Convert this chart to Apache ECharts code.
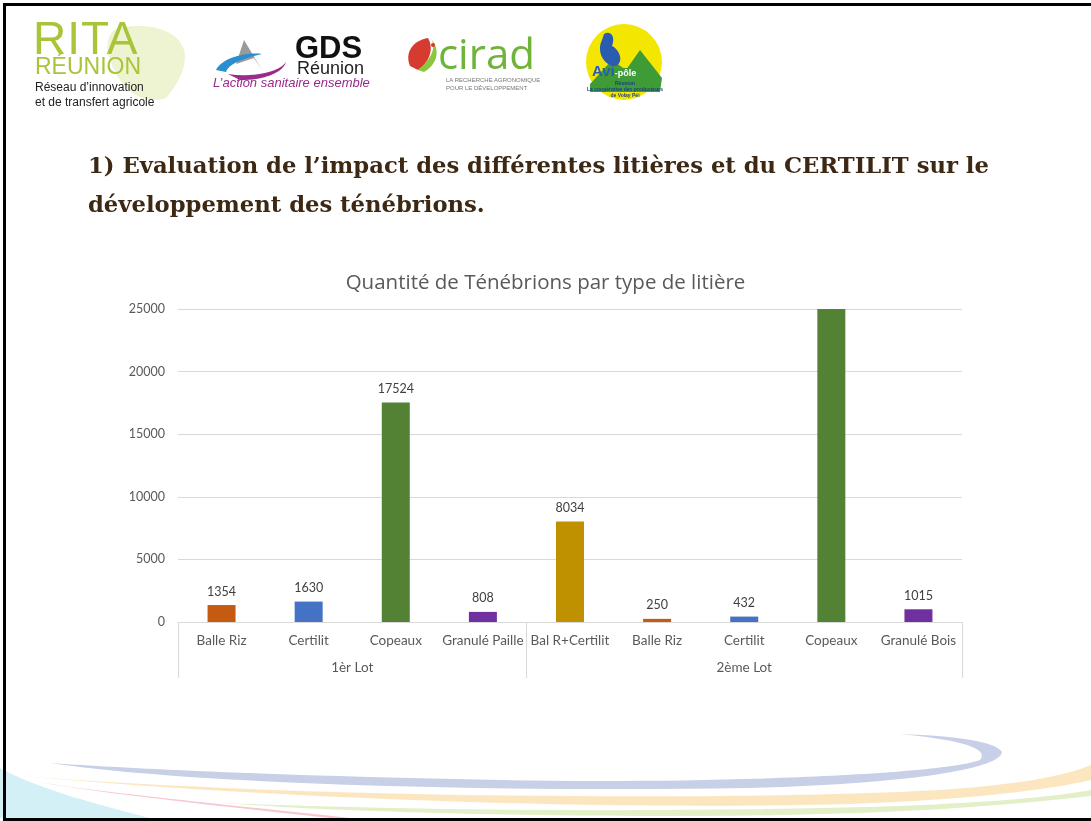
<!DOCTYPE html>
<html>
<head>
<meta charset="utf-8">
<script src="https://cdn.jsdelivr.net/npm/echarts@6/dist/echarts.min.js"></script>
<style>
  html, body { margin:0; padding:0; background:#fff; width:1091px; height:821px; overflow:hidden; }
  #chart { position:absolute; left:0; top:0; width:1091px; height:821px; }
  .ov { position:absolute; pointer-events:none; z-index:5; white-space:nowrap; }
  #frame { position:absolute; left:3px; top:3px; width:1100px; height:818px; border:3px solid #000; box-sizing:border-box; z-index:6; pointer-events:none; }
  #heading { left:88px; top:146px; width:980px; white-space:normal; font-family:"DejaVu Serif","Liberation Serif",serif; font-weight:bold; font-size:22.7px; line-height:39px; color:#3d2813; }
</style>
</head>
<body>
<div id="chart"></div>
<div id="frame"></div>

<!-- decorative logos rendered as text & shapes -->
<svg class="ov" style="left:0;top:0" width="1091" height="821">
  <!-- RITA island shape -->
  <path d="M118 28 C150 22 178 30 184 50 C188 66 178 84 166 98 C150 104 130 96 120 80 C108 62 100 36 118 28 Z" fill="#eef3d2"/>
  <!-- GDS arrow & swooshes -->
  <path d="M244 40 L262 70 L254 58 L236 64 Z" fill="#9a9a9a"/>
  <path d="M216 70 C222 58 246 52 262 54 C244 58 228 64 226 72 Z" fill="#2a8fd0"/>
  <path d="M228 74 C252 78 280 72 286 62 C284 70 270 80 240 80 Z" fill="#9b2a8d"/>
  <!-- cirad leaf -->
  <path d="M410 66 C404 52 414 40 428 38 C434 48 430 62 418 70 Z" fill="#d63b2f"/>
  <path d="M418 70 C430 60 436 50 432 40 C440 50 438 64 424 72 Z" fill="#8cc63f"/>
  <circle cx="433" cy="45" r="2" fill="#d63b2f"/>
  <!-- Avi-pole -->
  <circle cx="624" cy="62" r="38" fill="#f3e600"/>
  <path d="M590 84 L612 60 L626 70 L640 50 L662 78 L660 92 L590 92 Z" fill="#3f9b35"/>
  <path d="M602 40 C596 52 604 66 616 66 C624 62 620 50 612 46 C616 36 610 30 604 34 Z" fill="#2a5db0"/>
  <!-- bottom swooshes -->
  <path d="M0 768 C40 790 100 805 150 818 L0 818 Z" fill="#cdeef4" opacity="0.9"/>
  <path d="M50 763 C200 785 500 792 750 788 C900 784 1000 770 1002 752 C996 742 960 736 900 734 C960 740 990 748 980 760 C940 775 700 784 500 780 C300 776 150 770 50 763 Z" fill="#c8d0e8"/>
  <path d="M20 776 C300 798 700 800 900 792 C1000 788 1060 778 1091 765 L1091 780 C1040 792 950 800 850 804 C600 810 300 800 20 776 Z" fill="#fbe3b8" opacity="0.9"/>
  <path d="M30 781 C120 795 260 808 350 818 L330 818 C240 808 120 796 30 781 Z" fill="#f6c8cf"/>
  <path d="M220 803 C450 812 700 812 900 806 C1000 802 1060 796 1091 790 L1091 796 C1000 806 900 815 700 816 C500 816 350 812 220 803 Z" fill="#e2efc7"/>
</svg>

<div class="ov" style="left:33px;top:16px;font-family:'Liberation Sans',sans-serif;color:#a8c53a;font-size:46px;line-height:44px;letter-spacing:1px;">RITA</div>
<div class="ov" style="left:35px;top:55px;font-family:'Liberation Sans',sans-serif;color:#a8c53a;font-size:23px;line-height:22px;">RÉUNION</div>
<div class="ov" style="left:35px;top:80px;font-family:'Liberation Sans',sans-serif;color:#222;font-size:12px;line-height:15px;">Réseau d’innovation<br>et de transfert agricole</div>

<div class="ov" style="left:295px;top:33px;font-family:'Liberation Sans',sans-serif;font-weight:bold;color:#111;font-size:31px;line-height:30px;">GDS</div>
<div class="ov" style="left:297px;top:59px;font-family:'Liberation Sans',sans-serif;color:#222;font-size:18px;line-height:18px;">Réunion</div>
<div class="ov" style="left:213px;top:76px;font-family:'Liberation Sans',sans-serif;font-style:italic;color:#9b2a8d;font-size:13px;line-height:14px;">L’action sanitaire ensemble</div>

<div class="ov" style="left:438px;top:30px;font-family:'Open Sans',sans-serif;color:#6fb33a;font-size:42px;line-height:46px;">cirad</div>
<div class="ov" style="left:446px;top:76px;font-family:'Liberation Sans',sans-serif;color:#777;font-size:6px;line-height:8px;">LA RECHERCHE AGRONOMIQUE<br>POUR LE DÉVELOPPEMENT</div>

<div class="ov" style="left:592px;top:63px;font-family:'Liberation Sans',sans-serif;font-weight:bold;color:#2a5db0;font-size:15px;line-height:15px;">Avi<span style="font-size:9px;background:#3f9b35;color:#fff;">-pôle</span></div>
<div class="ov" style="left:583px;top:80px;width:84px;text-align:center;font-family:'Liberation Sans',sans-serif;font-weight:bold;color:#1a3f8a;font-size:5px;line-height:6px;">Réunion<br>La coopérative des producteurs<br>de Volay Péi</div>

<div id="heading" class="ov">1) Evaluation de l’impact des différentes litières et du CERTILIT sur le<br>développement des ténébrions.</div>

<script>
// ---------- data ----------
const chartTitle = 'Quantité de Ténébrions par type de litière';
const categories = ['Balle Riz', 'Certilit', 'Copeaux', 'Granulé Paille', 'Bal R+Certilit', 'Balle Riz', 'Certilit', 'Copeaux', 'Granulé Bois'];
const values = [1354, 1630, 17524, 808, 8034, 250, 432, 25000, 1015];
const barColors = ['#C55A11', '#4472C4', '#548235', '#7030A0', '#BF9000', '#C55A11', '#4472C4', '#548235', '#7030A0'];
const groupNames = ['1èr Lot', '2ème Lot'];
const groupSizes = [4, 5];
const yMin = 0;
const yMax = 25000;
const yStep = 5000;

// ---------- build ----------
const nCat = categories.length;
const halfSlots = new Array(2 * nCat + 1).fill('');
const boundaries = [];
let start = 0;
groupNames.forEach((g, i) => {
  boundaries.push(2 * start);
  halfSlots[2 * start + groupSizes[i]] = g;
  start += groupSizes[i];
});
boundaries.push(2 * start);

const barData = values.map((v, i) => ({
  value: v,
  itemStyle: { color: barColors[i] },
  label: { show: v < yMax }
}));

const textColor = '#595959';
const gridColor = '#D9D9D9';
const font = 'Lato, "Open Sans", sans-serif';

const chart = echarts.init(document.getElementById('chart'), null, { renderer: 'canvas' });
chart.setOption({
  backgroundColor: '#ffffff',
  animation: false,
  title: {
    text: chartTitle,
    left: 'center',
    top: 268,
    textStyle: { fontFamily: '"Open Sans", sans-serif', fontWeight: 'normal', fontSize: 20.5, color: textColor }
  },
  grid: { left: 178, top: 309, width: 784, height: 313, containLabel: false },
  xAxis: [
    {
      type: 'category',
      data: categories,
      position: 'bottom',
      axisLine: { lineStyle: { color: gridColor, width: 1 } },
      axisTick: { show: false },
      axisLabel: { interval: 0, color: textColor, fontFamily: font, fontSize: 13.5, margin: 12 }
    },
    {
      type: 'category',
      data: halfSlots,
      boundaryGap: false,
      position: 'bottom',
      axisLine: { show: false },
      axisTick: {
        show: true,
        length: 56,
        interval: (idx) => boundaries.indexOf(idx) >= 0,
        lineStyle: { color: gridColor, width: 1 }
      },
      axisLabel: { interval: 0, color: textColor, fontFamily: font, fontSize: 13.5, margin: 39 },
      splitLine: { show: false }
    }
  ],
  yAxis: {
    type: 'value',
    min: yMin,
    max: yMax,
    interval: yStep,
    axisLine: { show: false },
    axisTick: { show: false },
    axisLabel: { color: textColor, fontFamily: font, fontSize: 12.5, margin: 13, formatter: (v) => String(v) },
    splitLine: { lineStyle: { color: gridColor, width: 1 } }
  },
  series: [{
    type: 'bar',
    xAxisIndex: 0,
    data: barData,
    barWidth: 28,
    label: {
      position: 'top',
      distance: 7,
      color: '#404040',
      fontFamily: font,
      fontSize: 12.5
    }
  }]
});
</script>
</body>
</html>
